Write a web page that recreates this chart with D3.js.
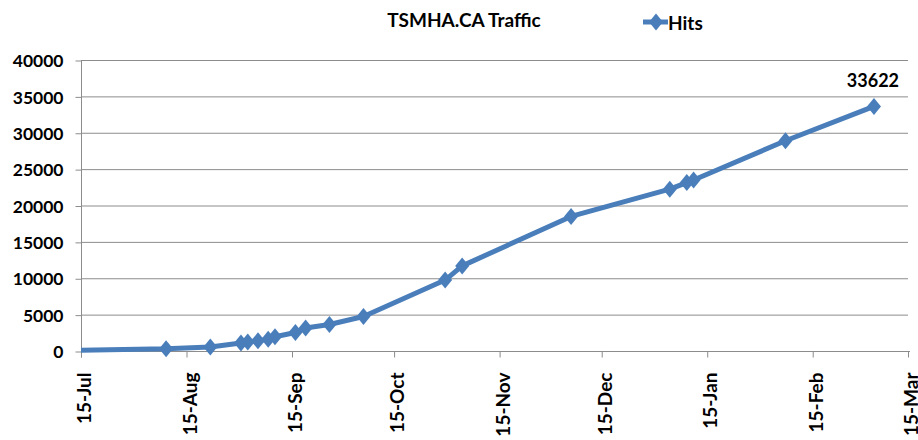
<!DOCTYPE html>
<meta charset="utf-8">
<script src="https://cdn.jsdelivr.net/npm/d3@7/dist/d3.min.js"></script>
<style>
    body { margin: 0; background: #fff; }
    svg text { font-family: Lato, "Open Sans", sans-serif; font-weight: bold; fill: #000; }
</style>
<svg width="918" height="440"></svg>
<script>
    // hits per date
    var dates = ["2010-07-15", "2010-08-09", "2010-08-22", "2010-08-31", "2010-09-02", "2010-09-05",
        "2010-09-08", "2010-09-10", "2010-09-16", "2010-09-19", "2010-09-26", "2010-10-06",
        "2010-10-30", "2010-11-04", "2010-12-06", "2011-01-04", "2011-01-09", "2011-01-11",
        "2011-02-07", "2011-03-05"];
    var hits = [100, 300, 550, 1100, 1250, 1400, 1600, 1950, 2550, 3150, 3650, 4750,
        9750, 11700, 18500, 22250, 23150, 23500, 28900, 33622];
    var yTicks = [0, 5000, 10000, 15000, 20000, 25000, 30000, 35000, 40000];
    var xTickDates = ["2010-07-15", "2010-08-15", "2010-09-15", "2010-10-15", "2010-11-15",
        "2010-12-15", "2011-01-15", "2011-02-15", "2011-03-15"];

    var parse = d3.timeParse("%Y-%m-%d");
    var data = dates.map(function (d, i) {
        return {date: parse(d), value: hits[i]};
    });

    var svg = d3.select("svg");
    var blue = "#4a7ebb", grid = "#8c8c8c";
    var plotLeft = 81, plotRight = 908, plotTop = 60, plotBottom = 351;

    var x = d3.scaleTime()
        .domain([parse(xTickDates[0]), parse(xTickDates[xTickDates.length - 1])])
        .range([plotLeft, plotRight]);
    var y = d3.scaleLinear().domain([0, 40000]).range([plotBottom, plotTop]);

    // gridlines
    svg.append("g").selectAll("line")
        .data(yTicks.slice(1))
        .enter().append("line")
        .attr("x1", plotLeft).attr("x2", plotRight)
        .attr("y1", function (d) { return y(d) + 0.5; })
        .attr("y2", function (d) { return y(d) + 0.5; })
        .attr("stroke", grid).attr("stroke-width", 1);

    // y axis
    var yAxis = svg.append("g")
        .attr("transform", "translate(" + (plotLeft + 0.5) + ",0.5)")
        .call(d3.axisLeft(y).tickValues(yTicks).tickSize(6).tickPadding(12).tickFormat(d3.format("d")));
    yAxis.select(".domain").attr("d", "M0," + plotTop + "V" + (plotBottom + 6)).attr("stroke", grid);
    yAxis.selectAll(".tick line").attr("stroke", grid);
    yAxis.selectAll("text").style("font-size", "17.5px").attr("dy", "0.35em");

    // x axis
    var xAxis = svg.append("g")
        .attr("transform", "translate(0," + (plotBottom + 0.5) + ")")
        .call(d3.axisBottom(x).tickValues(xTickDates.map(parse)).tickSize(6).tickFormat(d3.timeFormat("%d-%b")));
    xAxis.select(".domain").attr("d", "M" + plotLeft + ",0H" + (plotRight + 2)).attr("stroke", grid);
    xAxis.selectAll(".tick line").attr("stroke", grid);
    xAxis.selectAll("text")
        .style("font-size", "19px")
        .attr("text-anchor", "end")
        .attr("transform", "rotate(-90)")
        .attr("x", -21).attr("y", 3).attr("dy", "0.35em");

    // series line
    var line = d3.line()
        .x(function (d) { return x(d.date); })
        .y(function (d) { return y(d.value); });
    svg.append("path")
        .datum(data)
        .attr("d", line)
        .attr("fill", "none")
        .attr("stroke", blue)
        .attr("stroke-width", 5)
        .attr("stroke-linejoin", "round");

    // diamond markers
    var diamond = "M0,-8.5L7,0L0,8.5L-7,0Z";
    svg.append("g").selectAll("path")
        .data(data.slice(1))
        .enter().append("path")
        .attr("d", diamond)
        .attr("transform", function (d) {
            return "translate(" + x(d.date) + "," + y(d.value) + ")";
        })
        .attr("fill", blue);

    // last value label
    var last = data[data.length - 1];
    svg.append("text")
        .attr("x", x(last.date) - 1)
        .attr("y", y(last.value) - 19)
        .attr("text-anchor", "middle")
        .style("font-size", "18px")
        .text(last.value);

    // title
    svg.append("text")
        .attr("x", 464).attr("y", 27)
        .attr("text-anchor", "middle")
        .style("font-size", "19px")
        .text("TSMHA.CA Traffic");

    // legend
    var legend = svg.append("g").attr("transform", "translate(643,22)");
    legend.append("line")
        .attr("x1", 0).attr("x2", 25)
        .attr("stroke", blue).attr("stroke-width", 5);
    legend.append("path").attr("d", diamond).attr("transform", "translate(13,0)").attr("fill", blue);
    legend.append("text")
        .attr("x", 25).attr("y", 1).attr("dy", "0.35em")
        .style("font-size", "19px")
        .text("Hits");
</script>
